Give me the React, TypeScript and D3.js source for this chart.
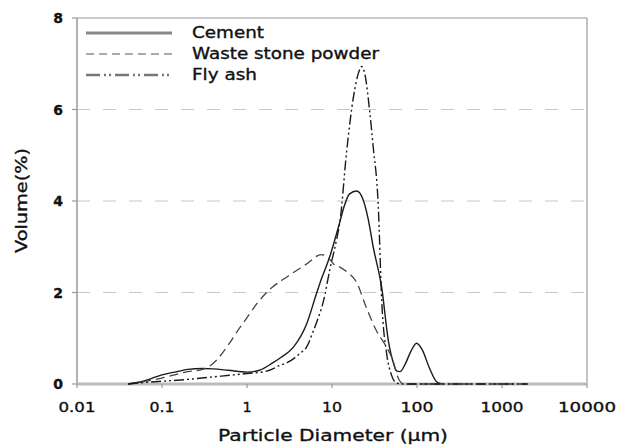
import React from "react";
import * as d3 from "d3";

const W = 629;
const H = 448;

const xTicks = [0.01, 0.1, 1, 10, 100, 1000, 10000];
const xTickLabels = ["0.01", "0.1", "1", "10", "100", "1000", "10000"];
const yTicks = [0, 2, 4, 6, 8];
const gridValues = [2, 4, 6];

const seriesNames = ["Cement", "Waste stone powder", "Fly ash"];

const cementX = [0.04, 0.06, 0.1, 0.15, 0.2, 0.3, 0.4, 0.6, 1.0, 1.4, 2.0, 2.5, 3.5, 5.0, 6.5, 7.2, 9.4, 12.4, 14, 16, 19.5, 23, 26.7, 30.5, 38.5, 46, 53, 58, 63, 72, 85, 99, 115, 140, 170, 200];
const cementY = [0, 0.06, 0.2, 0.27, 0.32, 0.34, 0.33, 0.3, 0.26, 0.3, 0.46, 0.58, 0.8, 1.3, 1.95, 2.2, 2.78, 3.55, 3.9, 4.15, 4.22, 4.05, 3.6, 3.0, 2.1, 0.95, 0.45, 0.28, 0.27, 0.42, 0.72, 0.89, 0.75, 0.35, 0.05, 0];

const wasteX = [0.04, 0.06, 0.1, 0.2, 0.3, 0.4, 0.6, 0.8, 1.0, 1.3, 1.7, 2.0, 3.0, 5.0, 7.5, 9.0, 10.5, 12.5, 15, 19.5, 25, 33, 44, 52, 58, 65, 70, 100, 500, 2000];
const wasteY = [0, 0.05, 0.13, 0.27, 0.32, 0.45, 0.85, 1.2, 1.45, 1.75, 2.0, 2.12, 2.35, 2.62, 2.83, 2.76, 2.62, 2.55, 2.45, 2.22, 1.7, 1.18, 0.8, 0.52, 0.2, 0.03, 0, 0, 0, 0];

const flyX = [0.04, 0.06, 0.1, 0.2, 0.37, 0.7, 1.0, 1.7, 2.4, 3.2, 4.2, 5.0, 6.0, 6.6, 8.0, 9.4, 11.3, 12.4, 14.9, 17.9, 20.5, 22.4, 24.5, 27.9, 30.5, 35, 38.5, 43.9, 50, 57.5, 65, 100, 500, 2000];
const flyY = [0, 0.03, 0.06, 0.1, 0.15, 0.2, 0.23, 0.28, 0.4, 0.5, 0.67, 0.8, 1.15, 1.35, 1.84, 2.49, 3.15, 3.55, 5.1, 6.28, 6.8, 6.94, 6.75, 5.92, 5.19, 3.9, 1.8, 0.67, 0.2, 0.02, 0, 0, 0, 0];

const m = { left: 77, right: 587, top: 18, bottom: 384 };

const xTickWidths = [37, 25, 0, 20, 33, 43, 58];
const legendWidths = [72, 187, 65];

export default function App() {
  const x = d3.scaleLog().domain([0.01, 10000]).range([m.left, m.right]);
  const y = d3.scaleLinear().domain([0, 8]).range([m.bottom, m.top]);
  const line = d3
    .line<[number, number]>()
    .x((d) => x(d[0]))
    .y((d) => y(d[1]))
    .curve(d3.curveMonotoneX);

  const series = [
    { name: seriesNames[0], xs: cementX, ys: cementY, dash: "none", color: "#1a1a1a", width: 1.4 },
    { name: seriesNames[1], xs: wasteX, ys: wasteY, dash: "9,5", color: "#444", width: 1.3 },
    { name: seriesNames[2], xs: flyX, ys: flyY, dash: "10,3,2,3,2,3", color: "#1a1a1a", width: 1.4 },
  ];

  const legendStyles = [
    { dash: "none", color: "#888", width: 3 },
    { dash: "8,5", color: "#aaa", width: 2 },
    { dash: "14,4,2,3,2,4", color: "#777", width: 2.5 },
  ];

  const font = "'DejaVu Sans', sans-serif";
  const txt = { fontFamily: font, fill: "#111", stroke: "#111", strokeWidth: 0.35 } as const;

  return (
    <svg width={W} height={H} style={{ position: "absolute", left: 0, top: 0 }}>
      <rect x={0} y={0} width={W} height={H} fill="#fff" />
      {gridValues.map((g) => (
        <line key={g} x1={m.left} x2={m.right} y1={y(g)} y2={y(g)} stroke="#c8c8c8" strokeWidth={1.2} strokeDasharray="13,13" />
      ))}
      <line x1={m.left} x2={m.right} y1={m.top} y2={m.top} stroke="#999" strokeWidth={1.2} />
      <line x1={m.right} x2={m.right} y1={m.top} y2={m.bottom} stroke="#999" strokeWidth={1.2} />
      <line x1={m.left} x2={m.left} y1={m.top} y2={m.bottom} stroke="#999" strokeWidth={1.5} />
      <line x1={m.left} x2={m.right} y1={m.bottom} y2={m.bottom} stroke="#bbb" strokeWidth={3} />
      {yTicks.map((t) => (
        <g key={t}>
          <line x1={m.left - 5} x2={m.left} y1={y(t)} y2={y(t)} stroke="#999" strokeWidth={1.2} />
          <text x={m.left - 14} y={y(t)} textAnchor="end" dominantBaseline="central" fontSize={14} fontWeight="bold" {...txt}>
            {t}
          </text>
        </g>
      ))}
      {xTicks.map((t, i) => (
        <g key={t}>
          <line x1={x(t)} x2={x(t)} y1={m.bottom} y2={m.bottom + 4} stroke="#999" strokeWidth={1.2} />
          <text
            x={x(t) - (xTickWidths[i] ? xTickWidths[i] / 2 : 0)}
            y={412}
            textAnchor={xTickWidths[i] ? "start" : "middle"}
            fontSize={14.5}
            {...(xTickWidths[i] ? { textLength: xTickWidths[i], lengthAdjust: "spacingAndGlyphs" } : {})}
            {...txt}
          >
            {xTickLabels[i]}
          </text>
        </g>
      ))}
      {series.map((s) => (
        <path
          key={s.name}
          d={line(s.xs.map((v, i) => [v, s.ys[i]] as [number, number])) || ""}
          fill="none"
          stroke={s.color}
          strokeWidth={s.width}
          strokeDasharray={s.dash}
        />
      ))}
      {series.map((s, i) => (
        <g key={"lg" + s.name}>
          <line x1={86} x2={172} y1={33 + i * 21} y2={33 + i * 21} stroke={legendStyles[i].color} strokeWidth={legendStyles[i].width} strokeDasharray={legendStyles[i].dash} />
          <text x={192} y={33 + i * 21} dominantBaseline="central" fontSize={15} textLength={legendWidths[i]} lengthAdjust="spacingAndGlyphs" {...txt}>
            {s.name}
          </text>
        </g>
      ))}
      <text
        transform={`translate(27,253) rotate(-90)`}
        textAnchor="start"
        fontSize={16}
        textLength={105}
        lengthAdjust="spacingAndGlyphs"
        {...txt}
      >
        Volume(%)
      </text>
      <text x={218} y={441} fontSize={16.5} textLength={230} lengthAdjust="spacingAndGlyphs" {...txt}>
        Particle Diameter (μm)
      </text>
    </svg>
  );
}
